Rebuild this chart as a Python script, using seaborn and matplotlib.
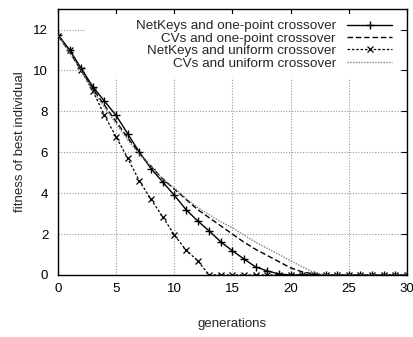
import numpy as np
import pandas as pd
import matplotlib
matplotlib.use("Agg")
import matplotlib.pyplot as plt
from matplotlib.patches import Rectangle
import seaborn as sns

generations = list(range(0, 31))
netkeys_onepoint = [11.75, 11.0, 10.1, 9.2, 8.5, 7.8, 6.9, 6.0, 5.2, 4.55, 3.9, 3.2, 2.65, 2.15, 1.62, 1.18,
                    0.78, 0.39, 0.2, 0.05, 0.0, 0.0, 0.0, 0.0, 0.0, 0.0, 0.0, 0.0, 0.0, 0.0, 0.0]
cvs_onepoint = [11.7, 10.9, 10.0, 9.1, 8.3, 7.5, 6.7, 5.95, 5.3, 4.7, 4.2, 3.7, 3.2, 2.8, 2.4, 2.0,
                1.6, 1.25, 0.95, 0.65, 0.35, 0.15, 0.05, 0.0, 0.0, 0.0, 0.0, 0.0, 0.0, 0.0, 0.0]
netkeys_uniform = [11.7, 11.0, 10.0, 9.0, 7.8, 6.75, 5.7, 4.6, 3.7, 2.85, 1.96, 1.22, 0.7, 0.0, 0.0, 0.0,
                   0.0, 0.0, 0.0, 0.0, 0.0, 0.0, 0.0, 0.0, 0.0, 0.0, 0.0, 0.0, 0.0, 0.0, 0.0]
cvs_uniform = [11.7, 10.9, 10.0, 9.0, 8.2, 7.4, 6.6, 5.9, 5.3, 4.7, 4.25, 3.75, 3.3, 2.95, 2.6, 2.3,
               1.95, 1.6, 1.3, 1.0, 0.7, 0.4, 0.12, 0.0, 0.0, 0.0, 0.0, 0.0, 0.0, 0.0, 0.0]

labels = ["NetKeys and one-point crossover", "CVs and one-point crossover",
          "NetKeys and uniform crossover", "CVs and uniform crossover"]
x_ticks = [0, 5, 10, 15, 20, 25, 30]
y_ticks = [0, 2, 4, 6, 8, 10, 12]

sns.set_theme(style="white")
plt.rcParams['font.family'] = ['Liberation Sans', 'DejaVu Sans']
plt.rcParams['font.size'] = 9.5

fig = plt.figure(figsize=(4.14, 3.37), dpi=100)
ax = fig.add_axes([0.140, 0.184, 0.843, 0.789])

styles = [
    dict(color="black", linestyle="-", marker="+", markersize=6, markeredgewidth=1.0,
         markeredgecolor="black", linewidth=1.0),
    dict(color="black", linestyle=(0, (4, 2)), marker=None, linewidth=1.0),
    dict(color="black", linestyle=(0, (2, 1.5)), marker="x", markersize=5, markeredgewidth=0.9,
         markeredgecolor="black", linewidth=0.9),
    dict(color="#808080", linestyle=(0, (1, 1)), marker=None, linewidth=1.0),
]
series = [netkeys_onepoint, cvs_onepoint, netkeys_uniform, cvs_uniform]
for lab, vals, st in zip(labels, series, styles):
    df = pd.DataFrame({"generations": generations, "fitness": vals})
    sns.lineplot(data=df, x="generations", y="fitness", ax=ax, label=lab, zorder=3, **st)

ax.set_xlim(0, 30)
ax.set_ylim(0, 13)
ax.set_xticks(x_ticks)
ax.set_yticks(y_ticks)
ax.grid(True, color="#999999", linestyle=(0, (1, 1.5)), linewidth=0.8)
ax.tick_params(direction="in", top=True, right=True, length=4, width=0.8, colors="black", labelsize=9.5)
ax.tick_params(axis="y", pad=7)
ax.tick_params(axis="x", pad=6)
for sp in ax.spines.values():
    sp.set_color("black")
    sp.set_linewidth(1.0)
ax.set_xlabel("generations", fontsize=9.5, labelpad=16)
ax.set_ylabel("fitness of best individual", fontsize=9.5, labelpad=5)

# key area blanks the grid behind it (as in the original)
ax.add_patch(Rectangle((0.077, 0.741), 0.903, 0.240, transform=ax.transAxes,
                       facecolor="white", edgecolor="none", zorder=1.7))

leg = ax.legend(loc="upper right", bbox_to_anchor=(0.97, 0.975), markerfirst=False, frameon=False,
                handlelength=3.4, handletextpad=0.8, labelspacing=0.0, borderpad=0.3, fontsize=9.7,
                borderaxespad=0)

fig.savefig("out.png", dpi=100)
